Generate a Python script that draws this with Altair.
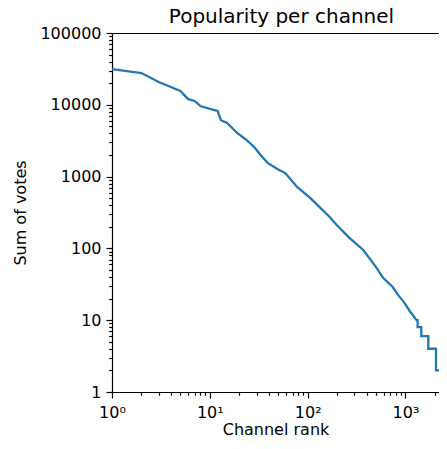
import altair as alt
import pandas as pd

# Values
rank = [1, 2, 3, 4, 5, 6, 7, 8, 10, 12, 13, 15, 19, 23, 25, 29, 33, 39, 49, 59,
        78, 106, 168, 198, 267, 370, 500, 590, 740, 850, 960, 1050, 1120, 1180,
        1230, 1300, 1330, 1330, 1450, 1450, 1710, 1710, 2050, 2050, 2360]
votes = [31500, 27700, 20800, 17700, 15600, 12000, 11300, 9600, 8750, 8200, 6100,
         5600, 4050, 3340, 3030, 2500, 2000, 1550, 1280, 1120, 717, 504, 274, 212,
         140, 95, 55, 39, 29, 22, 18, 15, 13, 12, 11, 10, 10, 8, 8, 6, 6, 4, 4, 2, 2]

x_major = [1, 10, 100, 1000]
x_major_labels = ["10⁰", "10¹", "10²", "10³"]
x_minor = [2, 3, 4, 5, 6, 7, 8, 9, 20, 30, 40, 50, 60, 70, 80, 90,
           200, 300, 400, 500, 600, 700, 800, 900, 2000]
y_major = [1, 10, 100, 1000, 10000, 100000]
y_minor = [m * d for d in [1, 10, 100, 1000, 10000] for m in range(2, 10)]

df = pd.DataFrame({"rank": rank, "votes": votes, "i": list(range(len(rank)))})

FONT = "DejaVu Sans"

xscale = alt.Scale(type="log", domain=[1, 2200], nice=False)
yscale = alt.Scale(type="log", domain=[1, 100000], nice=False)

x_label_expr = " : ".join(
    f"datum.value == {v} ? '{t}'" for v, t in zip(x_major, x_major_labels)
) + " : ''"

x_axis = alt.Axis(
    orient="bottom", values=x_major, title="Channel rank", labelExpr=x_label_expr,
    tickSize=6, labelOverlap=False, labelFlush=False, grid=False,
    labelPadding=6, titlePadding=1,
)
y_axis = alt.Axis(
    orient="left", values=y_major, title="Sum of votes", format="d",
    tickSize=6, labelOverlap=False, labelFlush=False, grid=False,
    labelPadding=5, titlePadding=11,
)
x_minor_axis = alt.Axis(orient="bottom", values=x_minor, tickSize=3.3, labels=False,
                        domain=False, title=None, grid=False)
y_minor_axis = alt.Axis(orient="left", values=y_minor, tickSize=3.3, labels=False,
                        domain=False, title=None, grid=False)

base = alt.Chart(df)

line = base.mark_line(color="#1f77b4", strokeWidth=2.3, clip=True).encode(
    x=alt.X("rank:Q", scale=xscale, axis=x_axis),
    y=alt.Y("votes:Q", scale=yscale, axis=y_axis),
    order="i:Q",
)

minor = base.mark_line(opacity=0, clip=True).encode(
    x=alt.X("rank:Q", scale=xscale, axis=x_minor_axis),
    y=alt.Y("votes:Q", scale=yscale, axis=y_minor_axis),
    order="i:Q",
)

top = base.mark_line(opacity=0, clip=True).encode(
    x=alt.X("rank:Q", scale=xscale,
            axis=alt.Axis(orient="top", labels=False, ticks=False, title=None, grid=False)),
    y=alt.Y("votes:Q", scale=yscale, axis=None),
    order="i:Q",
)

chart = alt.layer(line, minor, top).resolve_axis(
    x="independent", y="independent"
).properties(
    width=327,
    height=359,
    title=alt.TitleParams("Popularity per channel", font=FONT, fontSize=20,
                          fontWeight="normal", color="black", offset=-2,
                          frame="group", dx=6),
    autosize=alt.AutoSizeParams(type="none"),
    padding={"left": 104, "top": 25, "right": 0, "bottom": 48},
).configure_view(stroke=None).configure_axis(
    labelFont=FONT, labelFontSize=16, labelColor="black",
    titleFont=FONT, titleFontSize=16, titleFontWeight="normal", titleColor="black",
    domainColor="black", domainWidth=1.2, tickColor="black", tickWidth=1.2,
)

chart.save("out.html", embed_options={"renderer": "svg", "actions": False})
